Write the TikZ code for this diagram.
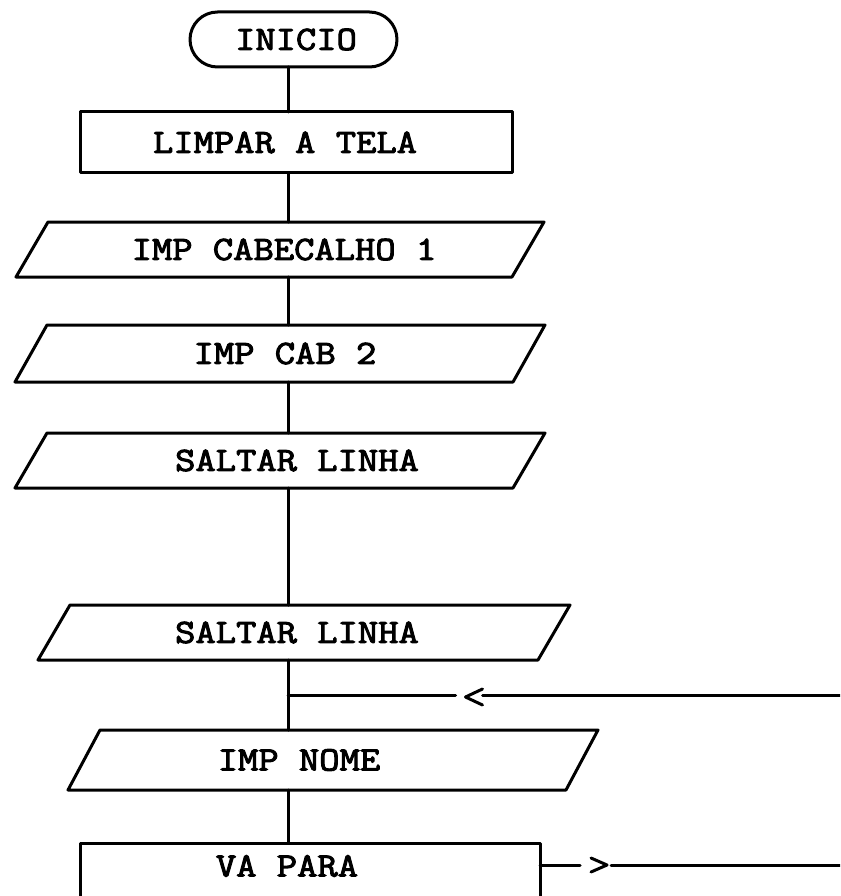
\documentclass[tikz,border=0pt]{standalone}
\usepackage{fontspec}
\newfontfamily\tw{Latin Modern Mono}[FakeBold=3,FakeStretch=1.16]
\usetikzlibrary{shapes.misc}
\tikzset{
  ln/.style={line width=3pt, line cap=round, line join=round},
  txt/.style={font=\tw\fontsize{34}{40}\selectfont},
  box/.style={rectangle, inner sep=0pt, outer sep=0pt, txt},
  drawn/.style={box, draw, ln},
  term/.style={rounded rectangle, draw, ln, inner sep=0pt, outer sep=0pt, minimum width=207pt, minimum height=55pt, txt},
  chev/.style={inner sep=0pt, outer sep=0pt, minimum width=17pt, minimum height=16pt}
}
\newcommand\para[1]{\draw[ln] ([xshift=-16pt]#1.south west) -- ([xshift=-16pt]#1.south east) -- ([xshift=16pt]#1.north east) -- ([xshift=16pt]#1.north west) -- cycle;}
\begin{document}
\begin{tikzpicture}[x=1pt,y=-1pt]
\useasboundingbox (0,0) rectangle (840,896);
\clip (0,0) rectangle (840,896);
\fill[white] (0,0) rectangle (840,896);
\coordinate (sp) at (288,0);
\node[term] (inicio) at (293.5,39.5) {\hspace*{5pt}INICIO};
\node[drawn, minimum width=432pt, minimum height=61pt] (limpar) at (296,142.5) {LIMPAR A TELA\hspace*{22pt}};
\node[box, minimum width=496pt, minimum height=55pt] (p1) at (280,249.5) {\hspace*{8pt}IMP CABECALHO 1};
\node[box, minimum width=498pt, minimum height=57pt] (p2) at (280,353.5) {\hspace*{10pt}IMP CAB 2};
\node[box, minimum width=498pt, minimum height=55pt] (p3) at (280,460.5) {\hspace*{34pt}SALTAR LINHA};
\node[box, minimum width=500pt, minimum height=55pt] (p4) at (304,632.5) {SALTAR LINHA\hspace*{14pt}};
\node[box, minimum width=498pt, minimum height=60pt] (p5) at (333,760) {IMP NOME\hspace*{68pt}};
\node[box, minimum width=460pt, minimum height=46pt] (va) at (310,866) {VA PARA\hspace*{46pt}};
\para{p1}
\para{p2}
\para{p3}
\para{p4}
\para{p5}
\draw[ln] ([yshift=-40pt]va.south west) -- (va.north west) -- (va.north east) -- ([yshift=-40pt]va.south east);
% spine
\draw[ln] (inicio.south -| sp) -- (limpar.north -| sp);
\draw[ln] (limpar.south -| sp) -- (p1.north -| sp);
\draw[ln] (p1.south -| sp) -- (p2.north -| sp);
\draw[ln] (p2.south -| sp) -- (p3.north -| sp);
\draw[ln] (p3.south -| sp) -- (p4.north -| sp);
\draw[ln] (p4.south -| sp) -- (p5.north -| sp);
\draw[ln] (p5.south -| sp) -- (va.north -| sp);
% loop-back entry
\coordinate (j1) at (288,695);
\node[chev] (lt) at (474,697) {};
\draw[ln] (lt.north east) -- (lt.west) -- (lt.south east);
\coordinate (r1) at (845,695);
\draw[ln] (j1) -- ([xshift=-10pt]lt.west |- j1);
\draw[ln] (lt.east |- r1) -- (r1);
% exit
\node[chev, minimum width=16pt, minimum height=14pt] (gt) at (599,865) {};
\draw[ln] (gt.north west) -- (gt.east) -- (gt.south west);
\coordinate (r2) at (845,865);
\draw[ln] (va.east |- r2) -- ([xshift=-11pt]gt.west);
\draw[ln] ([xshift=4pt]gt.east) -- (r2);
\end{tikzpicture}
\end{document}
